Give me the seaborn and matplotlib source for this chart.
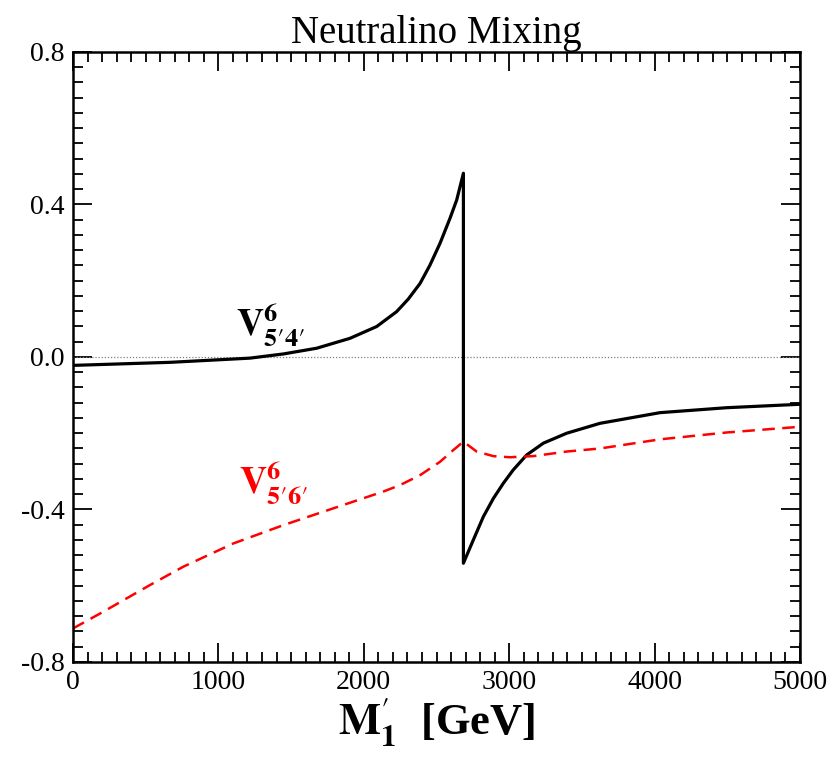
import numpy as np
import pandas as pd
import seaborn as sns
import matplotlib.pyplot as plt

# black curve V^6_{5'4'} (jump at ~2685 GeV)
m_black = [0, 667, 1217, 1447, 1676, 1905, 2089, 2226, 2306, 2387, 2455, 2524, 2593, 2639, 2685,
           2685, 2753, 2822, 2891, 2960, 3028, 3120, 3235, 3395, 3624, 4037, 4496, 5000]
v_black = [-0.022, -0.014, -0.003, 0.008, 0.023, 0.049, 0.080, 0.119, 0.152, 0.193, 0.241, 0.298,
           0.364, 0.412, 0.482,
           -0.541, -0.480, -0.419, -0.371, -0.331, -0.296, -0.257, -0.226, -0.200, -0.174,
           -0.146, -0.133, -0.124]

# red dashed curve V^6_{5'6'}
m_red = [0, 209, 530, 759, 1103, 1447, 1790, 2134, 2249, 2387, 2524, 2616, 2685, 2776, 2891,
         3005, 3166, 3395, 3624, 4037, 4496, 5000]
v_red = [-0.712, -0.668, -0.598, -0.550, -0.489, -0.441, -0.397, -0.353, -0.336, -0.310, -0.275,
         -0.244, -0.222, -0.248, -0.260, -0.263, -0.260, -0.248, -0.240, -0.216, -0.198, -0.183]

xticks = [0, 1000, 2000, 3000, 4000, 5000]
yticks = [-0.8, -0.4, 0.0, 0.4, 0.8]

sns.set_style("ticks")
plt.rcParams['font.family'] = ['Liberation Serif', 'DejaVu Serif']
plt.rcParams['mathtext.fontset'] = 'stix'
plt.rcParams['axes.unicode_minus'] = False
plt.rcParams['text.color'] = 'black'
plt.rcParams['xtick.color'] = 'black'
plt.rcParams['ytick.color'] = 'black'
plt.rcParams['axes.labelcolor'] = 'black'
plt.rcParams['axes.edgecolor'] = 'black'

df_b = pd.DataFrame({'m': m_black, 'v': v_black})
df_r = pd.DataFrame({'m': m_red, 'v': v_red})

fig = plt.figure(figsize=(8.4, 7.59), dpi=100)
ax = fig.add_axes([0.0869, 0.1278, 0.8655, 0.8037])

ax.axhline(0, color='gray', lw=0.9, ls=(0, (1, 1.5)), zorder=1)
sns.lineplot(data=df_b, x='m', y='v', sort=False, estimator=None, color='black', lw=2.3, ax=ax)
sns.lineplot(data=df_r, x='m', y='v', sort=False, estimator=None, color='red', lw=1.8, ax=ax)
ax.lines[-1].set_dashes([5, 3])
for ln in ax.lines:
    ln.set_solid_joinstyle('round')

ax.set_xlim(0, 5000)
ax.set_ylim(-0.8, 0.8)
ax.set_xticks(xticks)
ax.set_xticklabels([str(t) for t in xticks])
ax.set_yticks(yticks)
ax.set_yticklabels(['%.1f' % t for t in yticks])
ax.set_xticks(np.arange(0, 5001, 100), minor=True)
ax.set_yticks(np.arange(-0.8, 0.801, 0.04), minor=True)
ax.tick_params(which='both', direction='in', top=True, right=True, labelsize=20, width=1.3)
ax.tick_params(which='major', length=14, pad=6)
ax.tick_params(which='minor', length=7)
for s in ax.spines.values():
    s.set_linewidth(1.8)

ax.set_title('Neutralino Mixing', fontsize=28, pad=4)
ax.set_xlabel(r"$\mathbf{M}^{\prime}_{\mathbf{1}}$  [GeV]", fontsize=32, fontweight='bold', labelpad=0)
ax.set_ylabel('')

lab54 = "$\\mathbf{V}^{\\mathbf{6}}_{\\mathbf{5}\u2032\\mathbf{4}\u2032}$"
lab56 = "$\\mathbf{V}^{\\mathbf{6}}_{\\mathbf{5}\u2032\\mathbf{6}\u2032}$"
ax.text(1120, 0.085, lab54, fontsize=27, color='black', ha='left', va='center')
ax.text(1140, -0.33, lab56, fontsize=27, color='red', ha='left', va='center')

fig.savefig('out.png', dpi=100)
